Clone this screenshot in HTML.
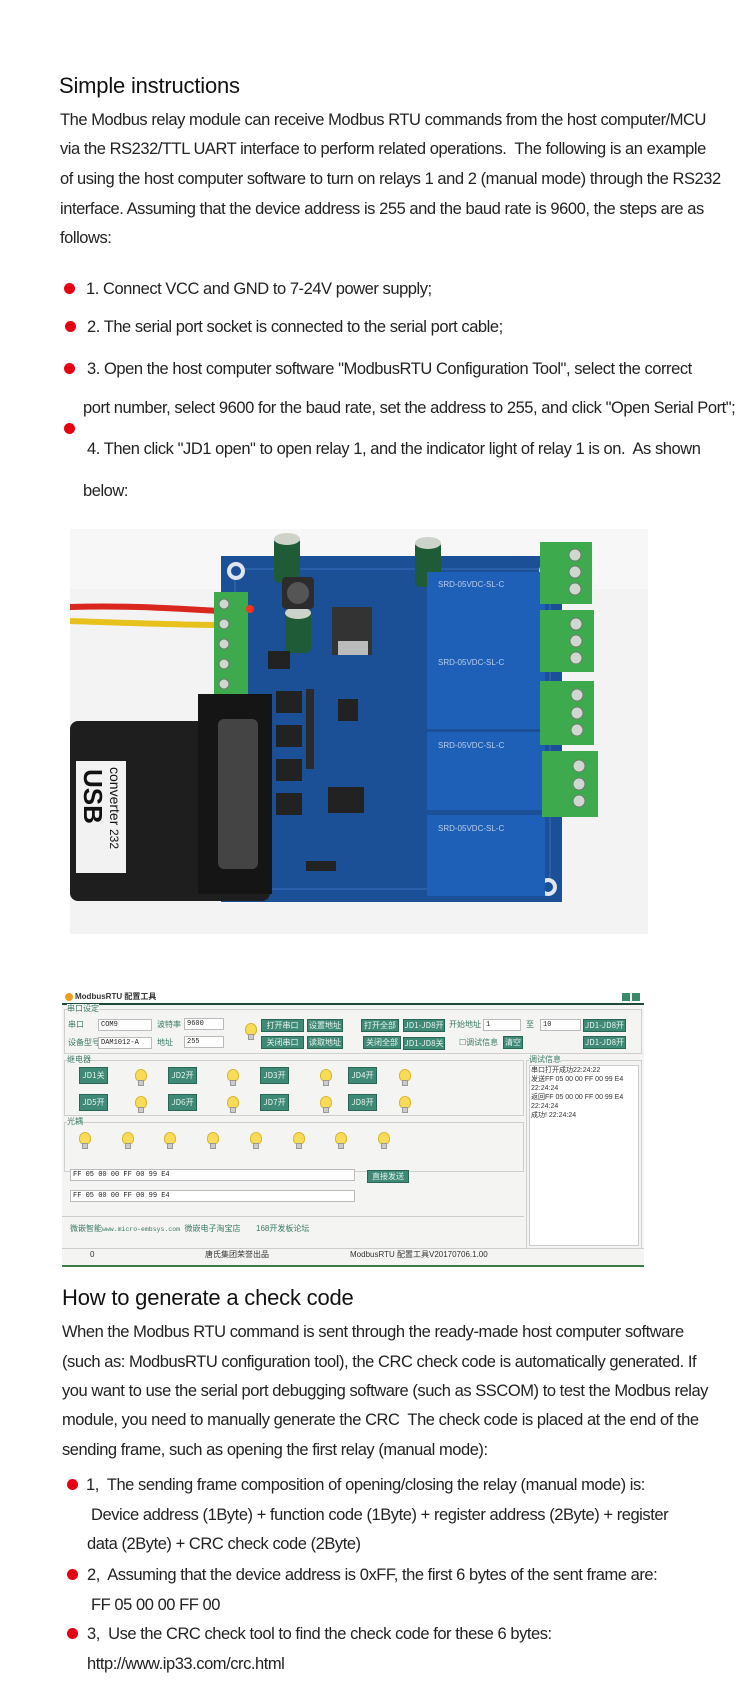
<!DOCTYPE html>
<html><head><meta charset="utf-8">
<style>
*{margin:0;padding:0;box-sizing:border-box}
body{width:750px;height:1696px;background:#fff;position:relative;overflow:hidden;font-family:"Liberation Sans","Noto Sans CJK SC",sans-serif;color:#222}
.t{position:absolute;white-space:nowrap;font-size:16.5px;line-height:20px;letter-spacing:-0.45px}
.h{position:absolute;white-space:nowrap;font-size:22px;line-height:26px;color:#111;letter-spacing:-0.2px}
.dot{position:absolute;width:11px;height:11px;border-radius:50%;background:#e60012}
.w{position:absolute;font-family:"Liberation Sans","Noto Sans CJK SC",sans-serif;font-size:8px;line-height:10px;white-space:nowrap;color:#333}
.btn{position:absolute;height:13px;background:#3f8a76;border:1px solid #2a6656;color:#e8f4ef;font-size:8px;line-height:11px;text-align:center;font-family:"Noto Sans CJK SC",sans-serif}
.inp{position:absolute;height:12px;background:#fff;border:1px solid #bbb;font-size:7px;line-height:10px;padding-left:2px;font-family:"Liberation Mono",monospace;color:#222}
.grp{position:absolute;border:1px solid #cfcfcf}
.bulb{position:absolute;width:10px;height:16px}
.bulb:before{content:"";position:absolute;left:0;top:0;width:10px;height:11px;border-radius:50% 50% 45% 45%;background:#f8dc58;border:1px solid #d9b52a}
.bulb:after{content:"";position:absolute;left:3px;top:11px;width:4px;height:4px;background:#ccc;border:1px solid #999}
</style></head><body>

<div class="h" style="left:59px;top:73px">Simple instructions</div>
<div class="t" style="left:60px;top:110px">The Modbus relay module can receive Modbus RTU commands from the host computer/MCU</div>
<div class="t" style="left:60px;top:139px">via the RS232/TTL UART interface to perform related operations.&nbsp; The following is an example</div>
<div class="t" style="left:60px;top:169px">of using the host computer software to turn on relays 1 and 2 (manual mode) through the RS232</div>
<div class="t" style="left:60px;top:199px">interface. Assuming that the device address is 255 and the baud rate is 9600, the steps are as</div>
<div class="t" style="left:60px;top:228px">follows:</div>

<div class="dot" style="left:64px;top:283px"></div>
<div class="t" style="left:86px;top:279px">1. Connect VCC and GND to 7-24V power supply;</div>
<div class="dot" style="left:65px;top:321px"></div>
<div class="t" style="left:87px;top:317px">2. The serial port socket is connected to the serial port cable;</div>
<div class="dot" style="left:64px;top:363px"></div>
<div class="t" style="left:87px;top:359px">3. Open the host computer software "ModbusRTU Configuration Tool", select the correct</div>
<div class="t" style="left:83px;top:398px">port number, select 9600 for the baud rate, set the address to 255, and click "Open Serial Port";</div>
<div class="dot" style="left:64px;top:423px"></div>
<div class="t" style="left:87px;top:439px">4. Then click "JD1 open" to open relay 1, and the indicator light of relay 1 is on.&nbsp; As shown</div>
<div class="t" style="left:83px;top:481px">below:</div>

<!-- photo -->
<svg style="position:absolute;left:70px;top:529px" width="578" height="405" viewBox="0 0 578 405">
<rect width="578" height="405" fill="#f3f3f3"/>
<rect x="0" y="0" width="578" height="60" fill="#f7f7f7"/>
<path d="M0 78 C60 76 110 80 150 82" stroke="#d9271e" stroke-width="6" fill="none"/>
<path d="M0 92 C60 94 110 96 150 96" stroke="#e8c21c" stroke-width="6" fill="none"/>
<rect x="151" y="27" width="341" height="346" fill="#1b4f96"/>
<rect x="165" y="40" width="315" height="320" fill="none" stroke="#3a72bd" stroke-width="1"/>
<circle cx="166" cy="42" r="9" fill="#dfe6ef"/><circle cx="166" cy="42" r="5" fill="#1b4f96"/>
<circle cx="478" cy="42" r="9" fill="#dfe6ef"/><circle cx="478" cy="42" r="5" fill="#1b4f96"/>
<circle cx="478" cy="358" r="9" fill="#dfe6ef"/><circle cx="478" cy="358" r="5" fill="#1b4f96"/>
<circle cx="166" cy="358" r="9" fill="#dfe6ef"/><circle cx="166" cy="358" r="5" fill="#1b4f96"/>
<rect x="204" y="8" width="26" height="46" rx="5" fill="#1f5b37"/><ellipse cx="217" cy="10" rx="13" ry="6" fill="#cdd3c8"/>
<rect x="345" y="12" width="26" height="46" rx="5" fill="#1f5b37"/><ellipse cx="358" cy="14" rx="13" ry="6" fill="#cdd3c8"/>
<rect x="215" y="82" width="26" height="42" rx="5" fill="#1f5b37"/><ellipse cx="228" cy="84" rx="13" ry="6" fill="#cdd3c8"/>
<rect x="212" y="48" width="32" height="32" rx="4" fill="#2c2c2c"/><circle cx="228" cy="64" r="11" fill="#555"/>
<rect x="262" y="78" width="40" height="48" fill="#333"/><rect x="268" y="112" width="30" height="14" fill="#bbb"/>
<rect x="268" y="170" width="20" height="22" fill="#222"/>
<rect x="258" y="258" width="36" height="26" fill="#222"/>
<rect x="198" y="122" width="22" height="18" fill="#222"/>
<rect x="206" y="162" width="26" height="22" fill="#222"/><rect x="206" y="196" width="26" height="22" fill="#222"/>
<rect x="206" y="230" width="26" height="22" fill="#222"/><rect x="206" y="264" width="26" height="22" fill="#222"/>
<rect x="236" y="160" width="8" height="80" fill="#2a2a2a"/>
<rect x="236" y="332" width="30" height="10" fill="#222"/>
<rect x="357" y="43" width="118" height="76" fill="#1e60b7"/>
<rect x="357" y="119" width="118" height="81" fill="#1e60b7"/>
<rect x="357" y="203" width="118" height="78" fill="#1e60b7"/>
<rect x="357" y="286" width="118" height="81" fill="#1e60b7"/>
<g fill="#b9cdea" font-size="8" font-family="Liberation Sans">
<text x="368" y="58">SRD-05VDC-SL-C</text><text x="368" y="136">SRD-05VDC-SL-C</text>
<text x="368" y="219">SRD-05VDC-SL-C</text><text x="368" y="302">SRD-05VDC-SL-C</text></g>
<rect x="470" y="13" width="52" height="62" fill="#3daa4e"/>
<rect x="470" y="81" width="54" height="62" fill="#3daa4e"/>
<rect x="470" y="152" width="54" height="64" fill="#3daa4e"/>
<rect x="472" y="222" width="56" height="66" fill="#3daa4e"/>
<g fill="#cfd8cf" stroke="#6c7a6c"><circle cx="505" cy="26" r="6"/><circle cx="505" cy="43" r="6"/><circle cx="505" cy="60" r="6"/>
<circle cx="506" cy="95" r="6"/><circle cx="506" cy="112" r="6"/><circle cx="506" cy="129" r="6"/>
<circle cx="507" cy="166" r="6"/><circle cx="507" cy="184" r="6"/><circle cx="507" cy="201" r="6"/>
<circle cx="509" cy="237" r="6"/><circle cx="509" cy="255" r="6"/><circle cx="509" cy="272" r="6"/></g>
<rect x="144" y="63" width="34" height="152" fill="#3daa4e"/>
<g fill="#cfd8cf" stroke="#6c7a6c"><circle cx="154" cy="75" r="5"/><circle cx="154" cy="95" r="5"/><circle cx="154" cy="115" r="5"/><circle cx="154" cy="135" r="5"/><circle cx="154" cy="155" r="5"/><circle cx="154" cy="175" r="5"/><circle cx="154" cy="195" r="5"/></g>
<circle cx="180" cy="80" r="4" fill="#ff3020"/>
<rect x="0" y="192" width="200" height="180" rx="8" fill="#1e1e1e"/>
<rect x="128" y="165" width="74" height="200" fill="#151515"/>
<rect x="148" y="190" width="40" height="150" rx="6" fill="#444"/>
<rect x="6" y="232" width="50" height="112" fill="#f2f2f2"/>
<text x="0" y="0" transform="translate(14,240) rotate(90)" font-family="Liberation Sans" font-weight="bold" font-size="26" fill="#111">USB</text>
<text x="0" y="0" transform="translate(40,238) rotate(90)" font-family="Liberation Sans" font-size="14" fill="#111">converter</text>
<text x="0" y="0" transform="translate(40,300) rotate(90)" font-family="Liberation Sans" font-size="12" fill="#111">232</text>
</svg>

<!-- software window -->
<div style="position:absolute;left:62px;top:990px;width:582px;height:277px;background:#f4f4f2">
 <div style="position:absolute;left:0;top:0;width:582px;height:13px;background:#fff"></div>
 <div style="position:absolute;left:3px;top:3px;width:8px;height:8px;border-radius:50%;background:#f0a020"></div>
 <div class="w" style="left:13px;top:2px;font-weight:bold;font-size:8px">ModbusRTU 配置工具</div>
 <div style="position:absolute;left:560px;top:3px;width:8px;height:8px;background:#3a8a6a"></div>
 <div style="position:absolute;left:570px;top:3px;width:8px;height:8px;background:#3a8a6a"></div>
 <div style="position:absolute;left:0;top:13px;width:582px;height:2px;background:#1d4a38"></div>
 <div class="grp" style="left:2px;top:19px;width:578px;height:45px"></div>
 <div class="w" style="left:5px;top:14px;background:#f4f4f2;color:#3a7a66">串口设定</div>
 <div class="w" style="left:6px;top:30px;color:#3a7a66">串口</div>
 <div class="inp" style="left:36px;top:29px;width:54px">COM9</div>
 <div class="w" style="left:95px;top:30px;color:#3a7a66">波特率</div>
 <div class="inp" style="left:122px;top:28px;width:40px">9600</div>
 <div class="w" style="left:6px;top:48px;color:#3a7a66">设备型号</div>
 <div class="inp" style="left:36px;top:47px;width:54px">DAM1012-A</div>
 <div class="w" style="left:95px;top:48px;color:#3a7a66">地址</div>
 <div class="inp" style="left:122px;top:46px;width:40px">255</div>
 <div class="bulb" style="left:183px;top:33px"></div>
 <div class="btn" style="left:199px;top:29px;width:43px">打开串口</div>
 <div class="btn" style="left:245px;top:29px;width:36px">设置地址</div>
 <div class="btn" style="left:299px;top:29px;width:38px">打开全部</div>
 <div class="btn" style="left:341px;top:29px;width:42px">JD1-JD8开</div>
 <div class="w" style="left:387px;top:30px;color:#3a7a66">开始地址</div>
 <div class="inp" style="left:421px;top:29px;width:38px">1</div>
 <div class="w" style="left:464px;top:30px;color:#3a7a66">至</div>
 <div class="inp" style="left:478px;top:29px;width:41px">10</div>
 <div class="btn" style="left:521px;top:29px;width:43px">JD1-JD8开</div>
 <div class="btn" style="left:199px;top:46px;width:43px">关闭串口</div>
 <div class="btn" style="left:245px;top:46px;width:36px">读取地址</div>
 <div class="btn" style="left:301px;top:46px;width:38px">关闭全部</div>
 <div class="btn" style="left:341px;top:47px;width:42px">JD1-JD8关</div>
 <div class="w" style="left:397px;top:48px;color:#3a7a66">☐调试信息</div>
 <div class="btn" style="left:441px;top:46px;width:20px">清空</div>
 <div class="btn" style="left:521px;top:46px;width:43px">JD1-JD8开</div>

 <div class="grp" style="left:2px;top:70px;width:460px;height:56px"></div>
 <div class="w" style="left:5px;top:65px;background:#f4f4f2;color:#3a7a66">继电器</div>
 <div class="btn" style="left:17px;top:77px;width:29px;height:17px;line-height:15px">JD1关</div>
 <div class="bulb" style="left:73px;top:79px"></div>
 <div class="btn" style="left:106px;top:77px;width:29px;height:17px;line-height:15px">JD2开</div>
 <div class="bulb" style="left:165px;top:79px"></div>
 <div class="btn" style="left:198px;top:77px;width:29px;height:17px;line-height:15px">JD3开</div>
 <div class="bulb" style="left:258px;top:79px"></div>
 <div class="btn" style="left:286px;top:77px;width:29px;height:17px;line-height:15px">JD4开</div>
 <div class="bulb" style="left:337px;top:79px"></div>
 <div class="btn" style="left:17px;top:104px;width:29px;height:17px;line-height:15px">JD5开</div>
 <div class="bulb" style="left:73px;top:106px"></div>
 <div class="btn" style="left:106px;top:104px;width:29px;height:17px;line-height:15px">JD6开</div>
 <div class="bulb" style="left:165px;top:106px"></div>
 <div class="btn" style="left:198px;top:104px;width:29px;height:17px;line-height:15px">JD7开</div>
 <div class="bulb" style="left:258px;top:106px"></div>
 <div class="btn" style="left:286px;top:104px;width:29px;height:17px;line-height:15px">JD8开</div>
 <div class="bulb" style="left:337px;top:106px"></div>

 <div class="grp" style="left:2px;top:132px;width:460px;height:50px"></div>
 <div class="w" style="left:5px;top:127px;background:#f4f4f2;color:#3a7a66">光耦</div>
 <div class="bulb" style="left:17px;top:142px"></div><div class="bulb" style="left:60px;top:142px"></div>
 <div class="bulb" style="left:102px;top:142px"></div><div class="bulb" style="left:145px;top:142px"></div>
 <div class="bulb" style="left:188px;top:142px"></div><div class="bulb" style="left:231px;top:142px"></div>
 <div class="bulb" style="left:273px;top:142px"></div><div class="bulb" style="left:316px;top:142px"></div>

 <div class="inp" style="left:8px;top:179px;width:285px">FF 05 00 00 FF 00 99 E4</div>
 <div class="btn" style="left:305px;top:180px;width:42px">直接发送</div>
 <div class="inp" style="left:8px;top:200px;width:285px">FF 05 00 00 FF 00 99 E4</div>
 <div style="position:absolute;left:0;top:226px;width:462px;height:1px;background:#ccc"></div>
 <div class="w" style="left:8px;top:234px;color:#3a7a66">微嵌智能<span style="font-family:'Liberation Mono';font-size:6.5px">www.micro-embsys.com</span>&nbsp; 微嵌电子淘宝店 &nbsp; &nbsp; &nbsp; 168开发板论坛</div>
 <div style="position:absolute;left:0;top:258px;width:582px;height:1px;background:#ccc"></div>

 <div class="grp" style="left:464px;top:70px;width:116px;height:189px"></div>
 <div class="w" style="left:467px;top:65px;background:#f4f4f2;color:#3a7a66">调试信息</div>
 <div style="position:absolute;left:467px;top:75px;width:110px;height:181px;background:#fff;border:1px solid #ccc"></div>
 <div class="w" style="left:469px;top:76px;font-size:7px;line-height:9px">串口打开成功22:24:22<br>发送FF 05 00 00 FF 00 99 E4<br>22:24:24<br>返回FF 05 00 00 FF 00 99 E4<br>22:24:24<br>成功! 22:24:24</div>
 <div class="w" style="left:28px;top:260px">0</div>
 <div class="w" style="left:143px;top:260px">唐氏集团荣誉出品</div>
 <div class="w" style="left:288px;top:260px">ModbusRTU 配置工具V20170706.1.00</div>
 <div style="position:absolute;left:0;top:275px;width:582px;height:2px;background:#3b7d4a"></div>
</div>

<div class="h" style="left:62px;top:1285px">How to generate a check code</div>
<div class="t" style="left:62px;top:1322px">When the Modbus RTU command is sent through the ready-made host computer software</div>
<div class="t" style="left:62px;top:1352px">(such as: ModbusRTU configuration tool), the CRC check code is automatically generated. If</div>
<div class="t" style="left:62px;top:1381px">you want to use the serial port debugging software (such as SSCOM) to test the Modbus relay</div>
<div class="t" style="left:62px;top:1410px">module, you need to manually generate the CRC&nbsp; The check code is placed at the end of the</div>
<div class="t" style="left:62px;top:1440px">sending frame, such as opening the first relay (manual mode):</div>

<div class="dot" style="left:67px;top:1479px"></div>
<div class="t" style="left:86px;top:1475px">1,&nbsp; The sending frame composition of opening/closing the relay (manual mode) is:</div>
<div class="t" style="left:91px;top:1505px">Device address (1Byte) + function code (1Byte) + register address (2Byte) + register</div>
<div class="t" style="left:87px;top:1534px">data (2Byte) + CRC check code (2Byte)</div>
<div class="dot" style="left:67px;top:1569px"></div>
<div class="t" style="left:87px;top:1565px">2,&nbsp; Assuming that the device address is 0xFF, the first 6 bytes of the sent frame are:</div>
<div class="t" style="left:91px;top:1595px">FF 05 00 00 FF 00</div>
<div class="dot" style="left:67px;top:1628px"></div>
<div class="t" style="left:87px;top:1624px">3,&nbsp; Use the CRC check tool to find the check code for these 6 bytes:</div>
<div class="t" style="left:87px;top:1654px">http://www.ip33.com/crc.html</div>
</body></html>
